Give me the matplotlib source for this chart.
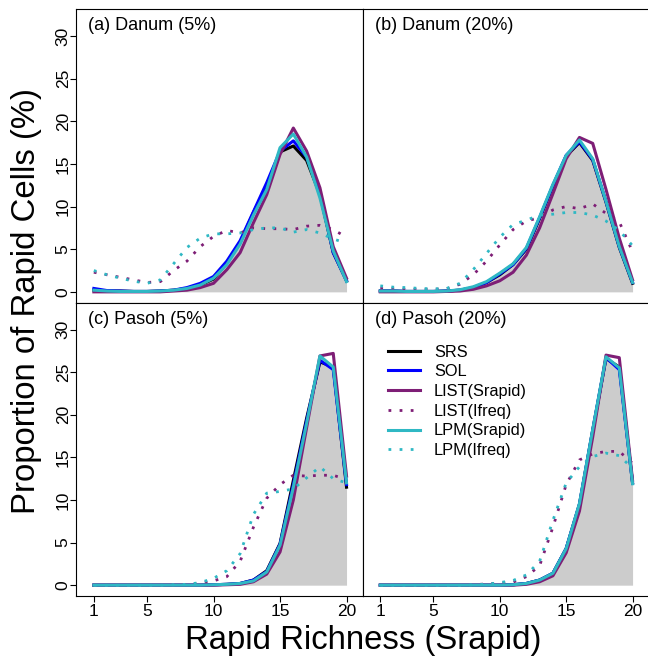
import matplotlib.pyplot as plt
from matplotlib.lines import Line2D

plt.rcParams['font.family'] = ['Liberation Sans', 'DejaVu Sans']

# Rapid richness classes
x = list(range(1, 21))

# (a) Danum 5%
da5_srs = [0.2, 0.1, 0.1, 0.05, 0.05, 0.1, 0.2, 0.4, 0.8, 1.5, 3.4, 5.8, 9.3, 12.3, 16.4, 17.1, 15.4, 11.4, 4.6, 1.3]
da5_sol = [0.4, 0.15, 0.1, 0.05, 0.05, 0.1, 0.2, 0.5, 1.0, 1.8, 3.6, 6.0, 9.4, 12.8, 16.5, 17.7, 15.8, 11.6, 4.6, 1.3]
da5_list_s = [0.0, 0.0, 0.0, 0.0, 0.0, 0.0, 0.1, 0.2, 0.5, 1.0, 2.6, 4.6, 8.1, 11.4, 16.1, 19.2, 16.5, 12.2, 5.3, 1.6]
da5_list_i = [2.3, 2.0, 1.7, 1.4, 1.1, 1.2, 2.5, 3.6, 5.3, 6.5, 7.2, 6.9, 7.5, 7.4, 7.4, 7.3, 7.7, 7.8, 7.3, 6.4]
da5_lpm_s = [0.2, 0.1, 0.05, 0.05, 0.05, 0.1, 0.2, 0.4, 0.8, 1.6, 3.2, 5.6, 9.0, 12.0, 16.9, 18.5, 15.8, 11.0, 4.8, 1.2]
da5_lpm_i = [2.5, 2.0, 1.6, 1.25, 1.0, 1.4, 3.3, 5.2, 6.3, 6.8, 6.8, 6.9, 7.3, 7.5, 7.5, 7.0, 7.3, 6.9, 6.2, 5.7]

# (b) Danum 20%
da20_srs = [0.1, 0.1, 0.05, 0.05, 0.05, 0.1, 0.2, 0.5, 1.1, 2.0, 3.2, 5.0, 8.6, 12.4, 15.9, 17.5, 15.4, 10.5, 5.2, 1.0]
da20_sol = [0.1, 0.1, 0.05, 0.05, 0.05, 0.1, 0.2, 0.5, 1.1, 2.1, 3.2, 5.1, 8.7, 12.5, 16.0, 17.6, 15.5, 10.6, 5.3, 1.1]
da20_list_s = [0.0, 0.0, 0.0, 0.0, 0.0, 0.05, 0.1, 0.3, 0.7, 1.3, 2.3, 4.3, 7.5, 11.5, 15.6, 18.1, 17.4, 12.0, 6.3, 1.4]
da20_list_i = [0.4, 0.35, 0.3, 0.3, 0.3, 0.35, 0.9, 2.0, 3.6, 5.5, 7.3, 8.3, 8.7, 9.6, 10.0, 9.75, 10.3, 9.2, 8.2, 4.7]
da20_lpm_s = [0.1, 0.1, 0.05, 0.05, 0.05, 0.1, 0.25, 0.6, 1.2, 2.2, 3.3, 5.2, 8.8, 12.6, 16.0, 17.8, 15.6, 10.6, 5.3, 1.1]
da20_lpm_i = [0.7, 0.55, 0.5, 0.4, 0.35, 0.4, 1.0, 2.6, 4.5, 6.4, 7.9, 8.4, 9.0, 9.1, 9.3, 9.3, 9.0, 8.3, 7.2, 5.4]

# (c) Pasoh 5%
pa5_srs = [0, 0, 0, 0, 0, 0, 0, 0, 0, 0.05, 0.1, 0.2, 0.6, 1.7, 4.9, 12.3, 19.6, 26.2, 25.6, 11.5]
pa5_sol = [0, 0, 0, 0, 0, 0, 0, 0, 0, 0.05, 0.1, 0.2, 0.6, 1.6, 4.8, 11.8, 19.3, 26.4, 25.3, 11.8]
pa5_list_s = [0, 0, 0, 0, 0, 0, 0, 0, 0, 0, 0.05, 0.1, 0.4, 1.3, 3.9, 10.0, 18.5, 26.9, 27.2, 12.8]
pa5_list_i = [0, 0, 0, 0, 0, 0, 0, 0.05, 0.2, 0.5, 1.0, 2.8, 6.8, 10.2, 11.8, 12.9, 12.8, 12.9, 12.9, 12.4]
pa5_lpm_s = [0, 0, 0, 0, 0, 0, 0, 0, 0, 0.05, 0.1, 0.2, 0.5, 1.55, 4.7, 11.5, 19.0, 26.9, 25.6, 12.0]
pa5_lpm_i = [0, 0, 0, 0, 0, 0, 0.05, 0.1, 0.3, 0.8, 1.7, 3.7, 8.3, 10.8, 11.0, 11.3, 12.6, 13.9, 12.5, 12.0]

# (d) Pasoh 20%
pa20_srs = [0, 0, 0, 0, 0, 0, 0, 0, 0, 0, 0.05, 0.2, 0.6, 1.4, 4.3, 9.5, 18.2, 26.6, 25.6, 12.0]
pa20_sol = [0, 0, 0, 0, 0, 0, 0, 0, 0, 0, 0.05, 0.2, 0.6, 1.4, 4.3, 9.5, 18.2, 26.7, 25.3, 12.0]
pa20_list_s = [0, 0, 0, 0, 0, 0, 0, 0, 0, 0, 0, 0.1, 0.4, 1.1, 3.8, 8.7, 17.4, 27.0, 26.7, 12.3]
pa20_list_i = [0, 0, 0, 0, 0, 0, 0, 0.05, 0.15, 0.25, 0.35, 1.0, 2.3, 6.8, 11.8, 14.7, 15.4, 15.7, 15.7, 14.3]
pa20_lpm_s = [0, 0, 0, 0, 0, 0, 0, 0, 0, 0, 0.05, 0.2, 0.6, 1.4, 4.3, 9.6, 18.3, 26.8, 25.5, 11.9]
pa20_lpm_i = [0, 0, 0, 0, 0, 0, 0, 0.05, 0.1, 0.3, 0.55, 1.2, 2.8, 7.6, 12.0, 13.9, 15.1, 15.5, 15.2, 13.7]

titles = ['(a) Danum (5%)', '(b) Danum (20%)', '(c) Pasoh (5%)', '(d) Pasoh (20%)']
labels = ['SRS', 'SOL', 'LIST(Srapid)', 'LIST(Ifreq)', 'LPM(Srapid)', 'LPM(Ifreq)']

panels = [
    [da5_srs, da5_sol, da5_list_s, da5_list_i, da5_lpm_s, da5_lpm_i],
    [da20_srs, da20_sol, da20_list_s, da20_list_i, da20_lpm_s, da20_lpm_i],
    [pa5_srs, pa5_sol, pa5_list_s, pa5_list_i, pa5_lpm_s, pa5_lpm_i],
    [pa20_srs, pa20_sol, pa20_list_s, pa20_list_i, pa20_lpm_s, pa20_lpm_i],
]

purple = '#7e1e76'
cyan = '#2fb8c4'
styles = [
    dict(color='black', lw=2.2),
    dict(color='#0000ff', lw=2.2),
    dict(color=purple, lw=2.2),
    dict(color=purple, lw=2.0, linestyle=(0, (1, 3))),
    dict(color=cyan, lw=2.2),
    dict(color=cyan, lw=2.0, linestyle=(0, (1, 3))),
]

W, H = 648, 656
fig = plt.figure(figsize=(W / 100, H / 100), dpi=100)

# pixel boxes: left, top, right, bottom
boxes = [(76, 9, 362.5, 302.7), (362.5, 9, 648.5, 302.7),
         (76, 302.7, 362.5, 596), (362.5, 302.7, 648.5, 596)]

for i, (series, box) in enumerate(zip(panels, boxes)):
    l, t, r, b = box
    ax = fig.add_axes([l / W, 1 - b / H, (r - l) / W, (b - t) / H])
    ax.fill_between(x, series[0], 0, color='#cccccc', lw=0)
    for s, lab, st in zip(series, labels, styles):
        ax.plot(x, s, label=lab, **st)

    ax.set_xlim(-0.34, 21.2)
    ax.set_ylim(-1.27, 33.15)
    ax.set_xticks([1, 5, 10, 15, 20])
    ax.set_yticks(range(0, 31, 5))
    ax.tick_params(length=4.3, width=0.8, labelsize=12.5, direction='out')
    ax.tick_params(axis='x', pad=1.5)
    ax.tick_params(axis='y', pad=-0.5, labelrotation=90)
    for lbl in ax.get_yticklabels():
        lbl.set_va('center')
    if i % 2 == 1:
        ax.tick_params(left=False, labelleft=False)
    if i < 2:
        ax.tick_params(bottom=False, labelbottom=False)
    for sp in ax.spines.values():
        sp.set_linewidth(0.8)

    ax.annotate(titles[i], xy=(0, 1), xycoords='axes fraction',
                xytext=(8.8, -15.1), textcoords='offset points',
                ha='left', va='baseline', fontsize=13)

# legend drawn in panel (d), placed in figure pixels
for j, (lab, st) in enumerate(zip(labels, styles)):
    yy = 1 - (350.7 + 19.7 * j) / H
    fig.add_artist(Line2D([388 / W, 420 / W], [yy, yy],
                          transform=fig.transFigure, **st))
    fig.text(434 / W, yy, lab, ha='left', va='center_baseline', fontsize=11.8)

fig.text(363 / W, 1 - 649.3 / H, 'Rapid Richness (Srapid)', ha='center',
         va='baseline', fontsize=23.7)
fig.text(35 / W, 1 - 301 / H, 'Proportion of Rapid Cells (%)', ha='center',
         va='baseline', rotation=90, rotation_mode='anchor', fontsize=23.7)

fig.savefig('out.png', dpi=100)
